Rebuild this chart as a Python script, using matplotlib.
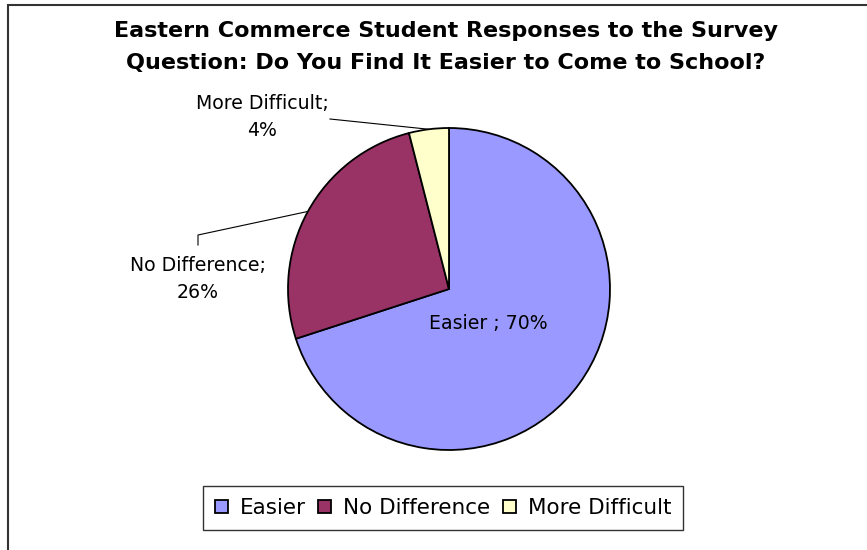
import matplotlib.pyplot as plt
import numpy as np
from matplotlib.patches import Rectangle

# survey results
categories = ["Easier", "No Difference", "More Difficult"]
shares = [70, 26, 4]
colors = ["#9999FF", "#993366", "#FFFFCC"]
title = "Eastern Commerce Student Responses to the Survey\nQuestion: Do You Find It Easier to Come to School?"

plt.rcParams['font.family'] = ['DejaVu Sans']

W, H = 867, 550
fig = plt.figure(figsize=(W / 100, H / 100), dpi=100)
ax = fig.add_axes([0, 0, 1, 1])

# outer chart frame (only left/top edges fall inside the canvas)
ax.add_patch(Rectangle((8, -20), W + 20, H - 5 + 20, fill=False, edgecolor='#333333', lw=1.5))

cx, cy, r = 449, H - 289, 161
wedges, _ = ax.pie(shares, colors=colors, startangle=90, counterclock=False,
                   center=(cx, cy), radius=r, frame=True,
                   wedgeprops=dict(edgecolor='black', linewidth=1.3))
ax.set_xlim(0, W)
ax.set_ylim(0, H)
ax.set_aspect('equal')
ax.axis('off')


def edge_point(w, frac=1.0):
    mid = np.deg2rad((w.theta1 + w.theta2) / 2)
    return cx + frac * r * np.cos(mid), cy + frac * r * np.sin(mid)


# Easier label inside the slice
ex, ey = edge_point(wedges[0], 0.36)
ax.text(ex - 8, ey, "%s ; %d%%" % (categories[0], shares[0]), ha='center', va='center', fontsize=13.6)

# No Difference label with leader line
px, py = edge_point(wedges[1])
ax.plot([px, 198, 198], [py, H - 235, H - 245], color='black', lw=0.8)
ax.text(198, H - 279, "%s;\n%d%%" % (categories[1], shares[1]), ha='center', va='center',
        fontsize=13.6, linespacing=1.55)

# More Difficult label with leader line
px, py = edge_point(wedges[2])
ax.plot([px, 330], [py, H - 119], color='black', lw=0.8)
ax.text(262, H - 117, "%s;\n%d%%" % (categories[2], shares[2]), ha='center', va='center',
        fontsize=13.6, linespacing=1.55)

ax.text(446, H - 47, title, ha='center', va='center', fontsize=16, fontweight='bold', linespacing=1.75)

leg = ax.legend(wedges, categories, loc='center', bbox_to_anchor=(443 / W, 1 - 508 / H),
                ncol=3, frameon=True, fancybox=False, fontsize=15.5, handlelength=0.6,
                handleheight=0.6, handletextpad=0.55, columnspacing=0.6, borderpad=0.55)
leg.get_frame().set_edgecolor('black')
leg.get_frame().set_linewidth(1.0)

fig.savefig("out.png", dpi=100)
